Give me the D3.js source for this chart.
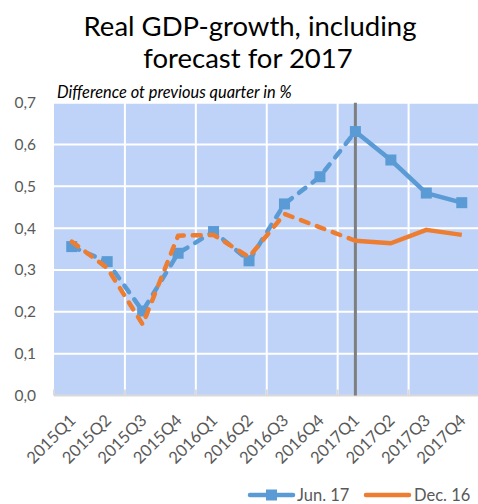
<!DOCTYPE html>
<html><head><meta charset="utf-8">
<script src="https://cdn.jsdelivr.net/npm/d3@7"></script>
<style>body{margin:0;background:#fff}svg{display:block}text{font-family:Lato,"Open Sans",sans-serif}</style>
</head><body><svg id="c" width="478" height="504"></svg>
<script>
const categories = ["2015Q1","2015Q2","2015Q3","2015Q4","2016Q1","2016Q2","2016Q3","2016Q4","2017Q1","2017Q2","2017Q3","2017Q4"];
const jun17 = [0.356,0.320,0.202,0.340,0.392,0.322,0.458,0.523,0.631,0.563,0.484,0.461];
const dec16 = [0.368,0.305,0.170,0.382,0.384,0.331,0.434,0.402,0.370,0.364,0.396,0.384];
const yTicks = [0,0.1,0.2,0.3,0.4,0.5,0.6,0.7];
const seriesNames = ["Jun. 17","Dec. 16"];
const forecastStart = "2017Q1";
const titleLines = ["Real GDP-growth, including","forecast for 2017"];
const subtitle = "Difference ot previous quarter in %";

const svg = d3.select("#c");
const L = 54, R = 479.5, T = 102.7, B = 395.5;
const x = d3.scaleBand().domain(categories).range([L, R]);
const cx = d => x(d) + x.bandwidth()/2;
const y = d3.scaleLinear().domain([0,0.7]).range([B, T]);
const blue = "#5B9BD5", orange = "#ED7D31", bg = "#bed3f7";

// title
svg.selectAll(".title").data(titleLines).join("text")
  .attr("x", (d,i)=> i===0?250:248).attr("y",(d,i)=> 35.5 + i*32.5)
  .attr("text-anchor","middle").attr("font-size",27.5).attr("fill","#000").text(d=>d);
svg.append("text").attr("x",57).attr("y",98).attr("font-size",16.4).attr("font-style","italic")
  .attr("fill","#000").text(subtitle);

// plot bg
svg.append("rect").attr("x",L).attr("y",T).attr("width",R-L).attr("height",B-T).attr("fill",bg);

// horizontal gridlines
svg.append("g").selectAll("line").data(yTicks.slice(1)).join("line")
  .attr("x1",L).attr("x2",R).attr("y1",d=>y(d)).attr("y2",d=>y(d))
  .attr("stroke","#fff").attr("stroke-width",2);
// vertical gridlines every 2 categories
const vIdx = categories.filter((d,i)=> i>0 && i%2===0);
svg.append("g").selectAll("line").data(vIdx).join("line")
  .attr("x1",d=>x(d)).attr("x2",d=>x(d)).attr("y1",T).attr("y2",B)
  .attr("stroke","#fff").attr("stroke-width",2);
// axis line and ticks
svg.append("line").attr("x1",L).attr("x2",R).attr("y1",B).attr("y2",B).attr("stroke","#d9d9d9").attr("stroke-width",2);
svg.append("g").selectAll("line").data(categories.filter((d,i)=>i%2===0)).join("line")
  .attr("x1",d=>x(d)).attr("x2",d=>x(d)).attr("y1",B-6).attr("y2",B)
  .attr("stroke","#d9d9d9").attr("stroke-width",2);

// y labels
const fmt = d3.format(".1f");
svg.append("g").selectAll("text").data(yTicks).join("text")
  .attr("x",36).attr("y",d=>y(d)).attr("dy","0.35em").attr("text-anchor","end")
  .attr("font-size",15.5).attr("fill","#595959").text(d=>fmt(d).replace(".",","));

// x labels
svg.append("g").selectAll("text").data(categories).join("text")
  .attr("transform",d=>`translate(${cx(d)+5},${B+26}) rotate(-45)`)
  .attr("text-anchor","end")
  .attr("font-size",16.5).attr("fill","#595959").text(d=>d);

// forecast line
svg.append("line").attr("x1",cx(forecastStart)).attr("x2",cx(forecastStart)).attr("y1",T).attr("y2",B)
  .attr("stroke","#7f7f7f").attr("stroke-width",3);

const si = categories.indexOf(forecastStart);
const line = d3.line().x(d=>cx(d.c)).y(d=>y(d.v));
function drawSeries(vals,color,markers){
  const pts = vals.map((v,i)=>({c:categories[i],v}));
  svg.append("path").attr("d",line(pts.slice(0,si+1))).attr("fill","none").attr("stroke",color)
    .attr("stroke-width",4.5).attr("stroke-dasharray","8,9").attr("stroke-linecap","round").attr("stroke-linejoin","round");
  svg.append("path").attr("d",line(pts.slice(si))).attr("fill","none").attr("stroke",color)
    .attr("stroke-width",4.5).attr("stroke-linejoin","round");
  if(markers){
    svg.append("g").selectAll("rect").data(pts).join("rect")
      .attr("x",d=>cx(d.c)-5.5).attr("y",d=>y(d.v)-5.5).attr("width",11).attr("height",11).attr("fill",color);
  }
}
drawSeries(jun17,blue,true);
drawSeries(dec16,orange,false);

// legend
const lg = svg.append("g");
lg.append("line").attr("x1",250).attr("x2",293).attr("y1",495).attr("y2",495).attr("stroke",blue).attr("stroke-width",4.5).attr("stroke-linecap","round");
lg.append("rect").attr("x",266).attr("y",489.5).attr("width",11).attr("height",11).attr("fill",blue);
lg.append("text").attr("x",297).attr("y",495).attr("dy","0.35em").attr("font-size",16.5).attr("fill","#595959").text(seriesNames[0]);
lg.append("line").attr("x1",366).attr("x2",409).attr("y1",495).attr("y2",495).attr("stroke",orange).attr("stroke-width",4.5).attr("stroke-linecap","round");
lg.append("text").attr("x",414).attr("y",495).attr("dy","0.35em").attr("font-size",16.5).attr("fill","#595959").text(seriesNames[1]);
</script></body></html>
